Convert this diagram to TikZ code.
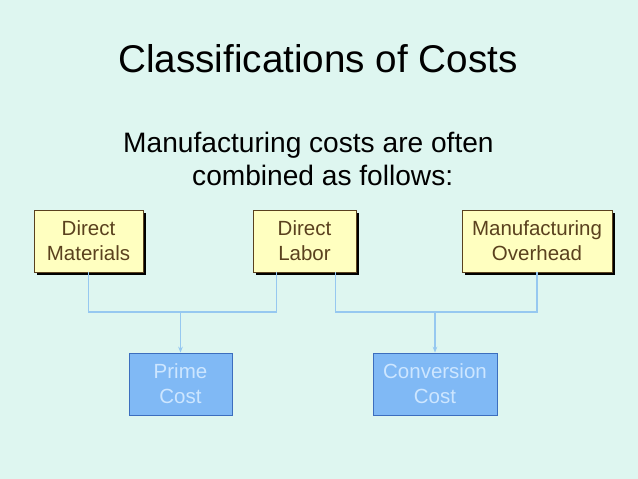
\documentclass[tikz,border=0pt]{standalone}
\usepackage{fontspec}
\setmainfont{Liberation Sans}
\usepackage{xcolor}
\usetikzlibrary{arrows.meta,calc}

\definecolor{bgmint}{RGB}{222,246,240}
\definecolor{costyellow}{RGB}{255,255,192}
\definecolor{costbrown}{RGB}{90,65,30}
\definecolor{costblue}{RGB}{128,185,245}
\definecolor{costdarkblue}{RGB}{60,110,190}
\definecolor{costpale}{RGB}{205,230,255}
\definecolor{linkblue}{RGB}{150,200,240}

\tikzset{
  inputbox/.style={draw=costbrown, fill=costyellow, text=costbrown, line width=0.8pt,
    align=center, minimum height=1.86cm, inner sep=0pt,
    font=\fontsize{17.5}{21.3}\selectfont},
  resultbox/.style={draw=costdarkblue, fill=costblue, text=costpale, line width=0.8pt,
    align=center, minimum height=1.86cm, inner sep=0pt,
    font=\fontsize{17.5}{21.3}\selectfont},
  link/.style={draw=linkblue, line width=1.2pt}
}

\begin{document}
\begin{tikzpicture}[x=0.03cm, y=-0.03cm]
  % background
  \fill[bgmint] (0,0) rectangle (638,479);
  \useasboundingbox (0,0) rectangle (638,479);
  % heading
  \node[anchor=base, font=\fontsize{33}{38}\selectfont] (title) at (318,73) {Classifications of Costs};
  \node[anchor=base west, font=\fontsize{24}{28}\selectfont, inner sep=0pt] (sub1) at (123,153) {Manufacturing costs are often};
  \node[anchor=base west, font=\fontsize{24}{28}\selectfont, inner sep=0pt] (sub2) at (192,186) {combined as follows:};
  % shadows
  \fill[black] (37,213) rectangle (146,275);
  \fill[black] (256,213) rectangle (359,275);
  \fill[black] (465,213) rectangle (615,275);
  % cost inputs
  \node[inputbox, minimum width=3.27cm] (mat) at (88.5,241) {Direct\\Materials};
  \node[inputbox, minimum width=3.09cm] (lab) at (304.5,241) {Direct\\Labor};
  \node[inputbox, minimum width=4.5cm] (ovh) at (537,241) {Manufacturing\\Overhead};
  % combined costs
  \node[resultbox, minimum width=3.09cm] (prime) at (180.5,384) {Prime\\Cost};
  \node[resultbox, minimum width=3.72cm] (conv) at (435,384) {Conversion\\Cost};
  % connectors
  \coordinate (labl) at ($(lab.south)+(-28,0)$);
  \coordinate (labr) at ($(lab.south)+(31,0)$);
  \draw[link] (mat.south) -- (mat.south |- 0,312) -| (labl);
  \draw[link] (labr) |- (ovh.south |- 0,312) -- (ovh.south);
  \draw[link, -{Stealth[length=5pt,width=4pt]}] (prime.north |- 0,312) -- (prime.north);
  \draw[link, -{Stealth[length=5pt,width=4pt]}] (conv.north |- 0,312) -- (conv.north);
\end{tikzpicture}
\end{document}
